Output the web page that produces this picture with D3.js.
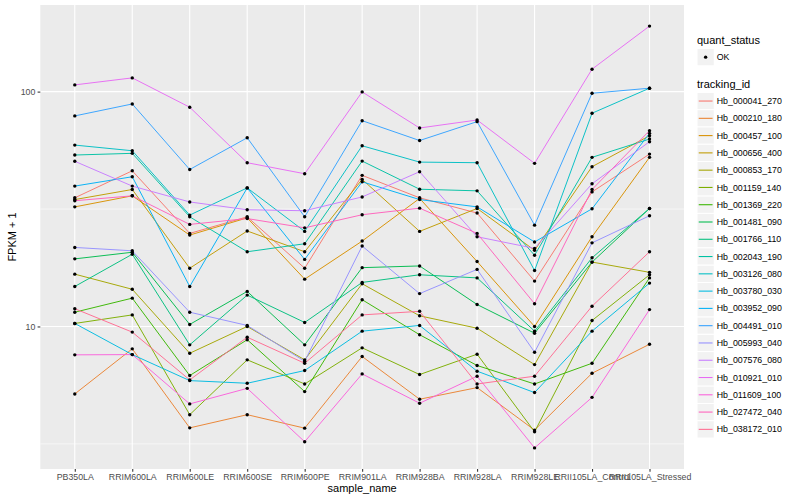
<!DOCTYPE html>
<html>
<head>
<meta charset="utf-8">
<script src="https://cdn.jsdelivr.net/npm/d3@7"></script>
<style>
  body { margin: 0; background: #fff; }
  text { font-family: "Liberation Sans", Arial, Helvetica, sans-serif; }
</style>
</head>
<body>
<script>
const samples = ['PB350LA', 'RRIM600LA', 'RRIM600LE', 'RRIM600SE', 'RRIM600PE', 'RRIM901LA',
  'RRIM928BA', 'RRIM928LA', 'RRIM928LE', 'RRII105LA_Control', 'RRII105LA_Stressed'];

const trackingIds = ['Hb_000041_270', 'Hb_000210_180', 'Hb_000457_100', 'Hb_000656_400', 'Hb_000853_170',
  'Hb_001159_140', 'Hb_001369_220', 'Hb_001481_090', 'Hb_001766_110', 'Hb_002043_190',
  'Hb_003126_080', 'Hb_003780_030', 'Hb_003952_090', 'Hb_004491_010', 'Hb_005993_040',
  'Hb_007576_080', 'Hb_010921_010', 'Hb_011609_100', 'Hb_027472_040', 'Hb_038172_010'];

const quantStatus = ['OK'];
const yBreaks = [10, 100];

// FPKM + 1, one value per sample
const hb_000041_270 = [35.3, 46.0, 24.9, 29.3, 17.7, 44.0, 35.3, 30.4, 15.6, 37.4, 54.2];
const hb_000210_180 = [5.16, 8.03, 3.70, 4.21, 3.69, 7.45, 4.90, 5.49, 3.62, 6.32, 8.40];
const hb_000457_100 = [32.3, 36.0, 24.5, 29.0, 15.9, 23.1, 35.1, 18.9, 10.0, 24.1, 52.5];
const hb_000656_400 = [34.7, 38.3, 17.7, 25.5, 20.8, 42.3, 25.4, 31.8, 21.1, 47.9, 64.9];
const hb_000853_170 = [16.7, 14.4, 7.69, 10.0, 7.21, 15.2, 11.1, 9.83, 6.88, 18.8, 17.0];
const hb_001159_140 = [10.3, 11.2, 4.21, 7.21, 5.69, 8.11, 6.24, 7.62, 3.56, 10.6, 16.6];
const hb_001369_220 = [11.5, 13.2, 6.18, 8.78, 5.28, 13.0, 9.22, 6.82, 5.69, 6.97, 16.1];
const hb_001481_090 = [19.4, 20.7, 10.2, 14.1, 8.35, 17.8, 18.1, 12.4, 9.36, 18.8, 31.8];
const hb_001766_110 = [14.8, 20.3, 8.35, 13.6, 10.4, 15.4, 16.6, 16.1, 9.55, 19.6, 31.8];
const hb_002043_190 = [53.7, 54.6, 29.3, 20.8, 22.5, 50.6, 38.4, 37.8, 20.1, 52.5, 62.8];
const hb_003126_080 = [59.2, 56.0, 29.8, 38.9, 25.4, 58.8, 50.1, 49.8, 17.3, 80.9, 103.4];
const hb_003780_030 = [10.3, 7.59, 5.88, 5.73, 6.49, 9.55, 10.1, 6.45, 5.23, 9.55, 15.3];
const hb_003952_090 = [39.6, 43.4, 14.8, 38.9, 19.3, 41.3, 34.7, 32.3, 22.9, 31.7, 66.4];
const hb_004491_010 = [78.8, 88.6, 46.6, 63.6, 29.3, 75.2, 61.9, 74.5, 27.0, 98.4, 103.4];
const hb_005993_040 = [21.7, 21.0, 11.5, 10.1, 7.11, 22.0, 13.8, 17.5, 7.77, 22.7, 29.6];
const hb_007576_080 = [50.5, 39.6, 33.9, 31.4, 31.1, 35.6, 45.6, 24.1, 21.5, 40.5, 61.2];
const hb_010921_010 = [106.8, 114.4, 85.8, 49.8, 44.7, 99.7, 70.0, 75.7, 49.5, 124.6, 190.1];
const hb_011609_100 = [7.57, 7.59, 4.68, 5.45, 3.23, 6.28, 4.71, 6.14, 3.04, 4.99, 11.8];
const hb_027472_040 = [34.3, 36.0, 27.2, 28.8, 26.3, 29.9, 31.9, 24.9, 12.5, 38.3, 68.2];
const hb_038172_010 = [11.9, 9.46, 5.92, 9.00, 6.97, 11.2, 11.6, 5.69, 6.14, 12.2, 20.8];

const seriesValues = [hb_000041_270, hb_000210_180, hb_000457_100, hb_000656_400, hb_000853_170,
  hb_001159_140, hb_001369_220, hb_001481_090, hb_001766_110, hb_002043_190,
  hb_003126_080, hb_003780_030, hb_003952_090, hb_004491_010, hb_005993_040,
  hb_007576_080, hb_010921_010, hb_011609_100, hb_027472_040, hb_038172_010];

// ggplot2 default hue palette for 20 levels
const palette = ['#F8766D', '#EA8331', '#D89000', '#C09B00', '#A3A500', '#7CAE00', '#39B600', '#00BB4E',
  '#00BF7D', '#00C1A3', '#00BFC4', '#00BAE0', '#00B0F6', '#35A2FF', '#9590FF', '#C77CFF',
  '#E76BF3', '#FA62DB', '#FF62BC', '#FF6C91'];

const width = 800, height = 500;
const panel = {left: 40.3, right: 684, top: 5, bottom: 469};

const series = trackingIds.map((id, i) => ({
  id: id,
  color: palette[i],
  points: samples.map((s, j) => ({sample: s, value: seriesValues[i][j]}))
}));

function createSvg() {
  let svg = d3.select('body')
    .append('svg')
    .attr('width', width)
    .attr('height', height);
  svg.append('rect').attr('width', width).attr('height', height).attr('fill', '#fff');
  return svg;
}

function createScales() {
  let x = d3.scalePoint()
    .domain(samples)
    .range([panel.left, panel.right])
    .padding(0.6);

  // log10 scale with 5% expansion in log space, like ggplot
  let all = seriesValues.flat();
  let lo = Math.log10(d3.min(all)), hi = Math.log10(d3.max(all));
  let pad = (hi - lo) * 0.05;
  let y = d3.scaleLog()
    .domain([Math.pow(10, lo - pad), Math.pow(10, hi + pad)])
    .range([panel.bottom, panel.top]);

  return {x, y};
}

function drawPanel(svg, x, y) {
  svg.append('rect')
    .attr('x', panel.left).attr('y', panel.top)
    .attr('width', panel.right - panel.left)
    .attr('height', panel.bottom - panel.top)
    .attr('fill', '#EBEBEB');

  let [d0, d1] = y.domain();
  let minor = [];
  for (let e = Math.floor(Math.log10(d0)); e <= Math.ceil(Math.log10(d1)); e++) {
    let v = Math.pow(10, e + 0.5);
    if (v > d0 && v < d1) minor.push(v);
  }

  let grid = svg.append('g').attr('class', 'grid');
  grid.selectAll('line.minor')
    .data(minor)
    .join('line')
    .attr('class', 'minor')
    .attr('x1', panel.left).attr('x2', panel.right)
    .attr('y1', d => y(d)).attr('y2', d => y(d))
    .attr('stroke', '#fff').attr('stroke-width', 0.55);

  grid.selectAll('line.hmajor')
    .data(yBreaks)
    .join('line')
    .attr('class', 'hmajor')
    .attr('x1', panel.left).attr('x2', panel.right)
    .attr('y1', d => y(d)).attr('y2', d => y(d))
    .attr('stroke', '#fff').attr('stroke-width', 1.1);

  grid.selectAll('line.vmajor')
    .data(samples)
    .join('line')
    .attr('class', 'vmajor')
    .attr('x1', d => x(d)).attr('x2', d => x(d))
    .attr('y1', panel.top).attr('y2', panel.bottom)
    .attr('stroke', '#fff').attr('stroke-width', 1.1);
}

function drawSeries(svg, x, y) {
  let line = d3.line()
    .x(d => x(d.sample))
    .y(d => y(d.value));

  svg.append('g')
    .attr('class', 'lines')
    .selectAll('path')
    .data(series)
    .join('path')
    .attr('d', d => line(d.points))
    .attr('fill', 'none')
    .attr('stroke', d => d.color)
    .attr('stroke-width', 0.95);

  svg.append('g')
    .attr('class', 'points')
    .selectAll('circle')
    .data(series.flatMap(s => s.points))
    .join('circle')
    .attr('cx', d => x(d.sample))
    .attr('cy', d => y(d.value))
    .attr('r', 1.7)
    .attr('fill', '#000');
}

function drawAxes(svg, x, y) {
  let yAxis = svg.append('g')
    .attr('transform', `translate(${panel.left},0)`)
    .call(d3.axisLeft(y).tickValues(yBreaks).tickFormat(d3.format('d')).tickSize(2.7).tickPadding(2.2));
  let xAxis = svg.append('g')
    .attr('transform', `translate(0,${panel.bottom})`)
    .call(d3.axisBottom(x).tickSize(2.7).tickPadding(2.2));

  [xAxis, yAxis].forEach(a => {
    a.select('.domain').remove();
    a.selectAll('line').attr('stroke', '#333').attr('stroke-width', 1.07);
    a.selectAll('text').attr('fill', '#4D4D4D').style('font-size', '8.8px');
  });

  svg.append('text')
    .attr('x', (panel.left + panel.right) / 2)
    .attr('y', 492)
    .attr('text-anchor', 'middle')
    .style('font-size', '11px')
    .text('sample_name');

  svg.append('text')
    .attr('transform', `translate(15.5,${(panel.top + panel.bottom) / 2}) rotate(-90)`)
    .attr('text-anchor', 'middle')
    .style('font-size', '11px')
    .text('FPKM + 1');
}

function drawLegend(svg) {
  let lx = 697, key = 17.28;
  let legend = svg.append('g').attr('class', 'legend');

  legend.append('text')
    .attr('x', lx).attr('y', 44)
    .style('font-size', '11px')
    .text('quant_status');

  let qs = legend.selectAll('g.qs')
    .data(quantStatus)
    .join('g')
    .attr('class', 'qs')
    .attr('transform', (d, i) => `translate(${lx},${48.5 + i * key})`);
  qs.append('rect').attr('width', key).attr('height', key).attr('fill', '#F2F2F2').attr('stroke', '#fff');
  qs.append('circle').attr('cx', key / 2).attr('cy', key / 2).attr('r', 1.7).attr('fill', '#000');
  qs.append('text').attr('x', key + 2.5).attr('y', key / 2 + 3.1).style('font-size', '8.8px').text(d => d);

  legend.append('text')
    .attr('x', lx).attr('y', 88)
    .style('font-size', '11px')
    .text('tracking_id');

  let items = legend.selectAll('g.tid')
    .data(series)
    .join('g')
    .attr('class', 'tid')
    .attr('transform', (d, i) => `translate(${lx},${92.4 + i * key})`);
  items.append('rect').attr('width', key).attr('height', key).attr('fill', '#F2F2F2').attr('stroke', '#fff');
  items.append('line')
    .attr('x1', key * 0.1).attr('x2', key * 0.9)
    .attr('y1', key / 2).attr('y2', key / 2)
    .attr('stroke', d => d.color).attr('stroke-width', 1.07);
  items.append('text').attr('x', key + 2.5).attr('y', key / 2 + 3.1).style('font-size', '8.8px').text(d => d.id);
}

let svg = createSvg();
let {x, y} = createScales();
drawPanel(svg, x, y);
drawSeries(svg, x, y);
drawAxes(svg, x, y);
drawLegend(svg);
</script>
</body>
</html>
